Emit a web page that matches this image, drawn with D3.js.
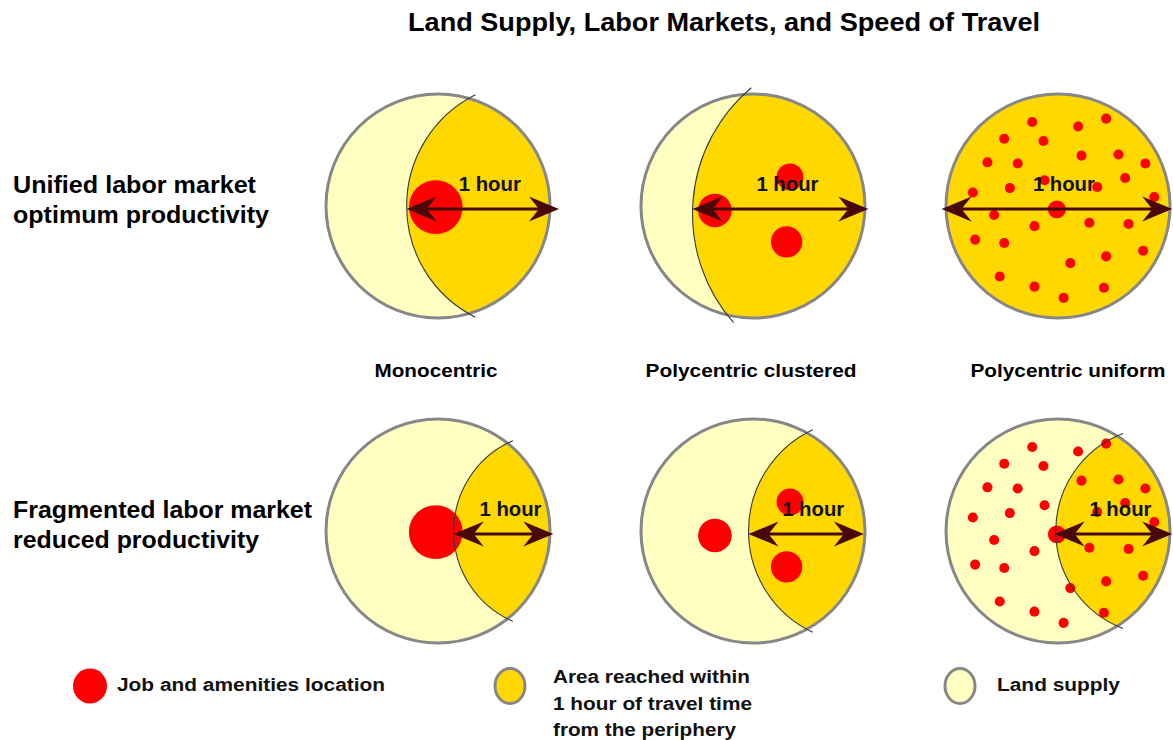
<!DOCTYPE html>
<html>
<head>
<meta charset="utf-8">
<script src="https://cdn.jsdelivr.net/npm/d3@7"></script>
<style>
  html, body { margin: 0; padding: 0; background: #fff; }
  svg { display: block; font-family: "Liberation Sans", Arial, sans-serif; font-weight: bold; }
</style>
</head>
<body>
<svg id="chart" width="1173" height="740"></svg>
<script>
// ---- data (city coordinates in units of the city radius, centre = 0) ----
const title = "Land Supply, Labor Markets, and Speed of Travel";
const columns = ["Monocentric", "Polycentric clustered", "Polycentric uniform"];
const rowKeys = ["unified", "fragmented"];
const rowLabels = [
  ["Unified labor market", "optimum productivity"],
  ["Fragmented labor market", "reduced productivity"]
];

// one-hour reach from the periphery: centre (x, y) and radius of the reach circle
const reachHubUnified = [[0.83, 0], [0.93, 0.07], null];
const reachRadiusUnified = [1.11, 1.47, null];
const reachHubFragmented = [[1.02, 0], [0.96, 0], [0.91, 0]];
const reachRadiusFragmented = [0.88, 1.00, 0.93];

// the "1 hour" arrow, start and end along the axis
const spanUnified = [[-0.28, 1.08], [-0.54, 1.03], [-1.04, 1.02]];
const spanFragmented = [[0.14, 1.03], [-0.04, 0.99], [-0.03, 1.02]];

// job and amenities locations
const jobsMono = [{ x: -0.02, y: 0.01, r: 0.24 }];
const jobsClustered = [
  { x: -0.34, y: 0.04, r: 0.15 },
  { x: 0.33, y: -0.26, r: 0.12 },
  { x: 0.30, y: 0.32, r: 0.14 }
];
const jobsUniform = [
  { x: -0.01, y: 0.03, r: 0.08 },
  { x: -0.23, y: -0.75 }, { x: 0.18, y: -0.71 }, { x: 0.43, y: -0.78 },
  { x: -0.48, y: -0.60 }, { x: -0.13, y: -0.58 }, { x: -0.63, y: -0.39 },
  { x: -0.36, y: -0.38 }, { x: 0.21, y: -0.45 }, { x: 0.54, y: -0.46 },
  { x: 0.78, y: -0.38 }, { x: -0.12, y: -0.23 }, { x: 0.60, y: -0.25 },
  { x: -0.76, y: -0.12 }, { x: -0.43, y: -0.16 }, { x: 0.35, y: -0.17 },
  { x: 0.86, y: -0.08 }, { x: -0.57, y: 0.08 }, { x: -0.21, y: 0.18 },
  { x: 0.28, y: 0.15 }, { x: 0.63, y: 0.16 }, { x: -0.74, y: 0.30 },
  { x: -0.48, y: 0.33 }, { x: 0.43, y: 0.45 }, { x: 0.76, y: 0.40 },
  { x: 0.11, y: 0.51 }, { x: -0.52, y: 0.63 }, { x: -0.21, y: 0.72 },
  { x: 0.41, y: 0.73 }, { x: 0.05, y: 0.82 }
];
const jobsByColumn = [jobsMono, jobsClustered, jobsUniform];

const legendLabels = [
  ["Job and amenities location"],
  ["Area reached within", "1 hour of travel time", "from the periphery"],
  ["Land supply"]
];

// ---- styles ----
const landColor = "#FFFFC2";
const reachColor = "#FFD800";
const jobColor = "#FF0000";
const rimColor = "#878787";
const arrowColor = "#480808";
const smallDot = 0.045;

const svg = d3.select("#chart");
const R = 112;
const colX = d3.scaleOrdinal().domain(columns).range([438, 753, 1058]);
const rowY = d3.scaleOrdinal().domain(rowKeys).range([206, 531]);

function fit(sel, w) {
  sel.attr("textLength", w).attr("lengthAdjust", "spacingAndGlyphs");
}

// title
svg.append("text")
  .attr("x", 724).attr("y", 31)
  .attr("text-anchor", "middle")
  .style("font-size", "25px")
  .text(title)
  .call(fit, 632);

// row labels
const rowWidths = [[243, 256], [299, 246]];
rowKeys.forEach((key, i) => {
  const t = svg.append("text").attr("x", 13).style("font-size", "24px");
  rowLabels[i].forEach((line, j) => {
    t.append("tspan")
      .attr("x", 13)
      .attr("y", rowY(key) - 13 + j * 30)
      .text(line)
      .call(fit, rowWidths[i][j]);
  });
});

// column labels
const colWidths = [123, 211, 195];
columns.forEach((c, i) => {
  svg.append("text")
    .attr("x", i === 2 ? colX(c) + 10 : colX(c) - 2)
    .attr("y", 377)
    .attr("text-anchor", "middle")
    .style("font-size", "18px")
    .text(c)
    .call(fit, colWidths[i]);
});

// barbed arrowhead, tip at (tipX, y), dir = +1 points left
function headPath(tipX, y, dir) {
  const L = 30, w = 12.5, notch = 20;
  return `M${tipX},${y}L${tipX + dir * L},${y - w}L${tipX + dir * notch},${y}L${tipX + dir * L},${y + w}Z`;
}

let clipId = 0;
rowKeys.forEach((key, ri) => {
  const hubs = ri === 0 ? reachHubUnified : reachHubFragmented;
  const radii = ri === 0 ? reachRadiusUnified : reachRadiusFragmented;
  const spans = ri === 0 ? spanUnified : spanFragmented;

  columns.forEach((col, ci) => {
    const cx = colX(col), cy = rowY(key);
    const x = d3.scaleLinear().domain([-1, 1]).range([cx - R, cx + R]);
    const y = d3.scaleLinear().domain([-1, 1]).range([cy - R, cy + R]);
    const k = d3.scaleLinear().domain([0, 1]).range([0, R]);
    const g = svg.append("g");

    const id = "city" + (clipId++);
    g.append("clipPath").attr("id", id)
      .append("circle").attr("cx", cx).attr("cy", cy).attr("r", R);

    const hub = hubs[ci], rr = radii[ci];
    g.append("circle")
      .attr("cx", cx).attr("cy", cy).attr("r", R)
      .attr("fill", hub === null ? reachColor : landColor);

    if (hub !== null) {
      g.append("circle")
        .attr("clip-path", `url(#${id})`)
        .attr("cx", x(hub[0])).attr("cy", y(hub[1])).attr("r", k(rr))
        .attr("fill", reachColor);
    }

    g.append("circle")
      .attr("cx", cx).attr("cy", cy).attr("r", R)
      .attr("fill", "none")
      .attr("stroke", rimColor).attr("stroke-width", 3);

    // jobs
    g.selectAll(".job")
      .data(jobsByColumn[ci])
      .join("circle")
      .attr("class", "job")
      .attr("cx", d => x(d.x))
      .attr("cy", d => y(d.y))
      .attr("r", d => k(d.r || smallDot))
      .attr("fill", jobColor);

    // reach boundary arc, running a little past the rim
    if (hub !== null) {
      const [h, v] = hub;
      const d = Math.hypot(h, v);
      const a = (1 - rr * rr + d * d) / (2 * d);
      const hh = Math.sqrt(1 - a * a);
      const px = a * h / d, py = a * v / d;
      const pts = [
        [px + hh * v / d, py - hh * h / d],
        [px - hh * v / d, py + hh * h / d]
      ];
      const angs = pts.map(p => Math.atan2(p[1] - v, p[0] - h));
      const aTop = Math.min(...angs), aBot = Math.max(...angs);
      const ext = 0.06;
      const p = d3.path();
      p.arc(x(h), y(v), k(rr), aBot - ext, aTop + 2 * Math.PI + ext, false);
      g.append("path")
        .attr("d", p.toString())
        .attr("fill", "none")
        .attr("stroke", "#3a3a3a")
        .attr("stroke-width", 1.1);
    }

    // arrow
    const ay = cy + 3;
    const x0 = x(spans[ci][0]), x1 = x(spans[ci][1]);
    g.append("line")
      .attr("x1", x0 + 10).attr("x2", x1 - 10)
      .attr("y1", ay).attr("y2", ay)
      .attr("stroke", arrowColor).attr("stroke-width", 3);
    g.append("path").attr("d", headPath(x0, ay, 1)).attr("fill", arrowColor);
    g.append("path").attr("d", headPath(x1, ay, -1)).attr("fill", arrowColor);

    g.append("text")
      .attr("x", (x0 + x1) / 2 + 7)
      .attr("y", ay - 18)
      .attr("text-anchor", "middle")
      .style("font-size", "20px")
      .attr("fill", "#111")
      .text("1 hour")
      .call(fit, 62);
  });
});

// legend
const legendX = [90, 510, 960];
const legendFill = [jobColor, reachColor, landColor];
const legendTextX = [117, 553, 997];
const legendWidths = [[268], [197, 199, 183], [123]];
legendLabels.forEach((lines, i) => {
  const sym = svg.append("ellipse")
    .attr("cx", legendX[i]).attr("cy", 686)
    .attr("rx", i === 0 ? 17 : 15).attr("ry", 17.5)
    .attr("fill", legendFill[i]);
  if (i > 0) sym.attr("stroke", rimColor).attr("stroke-width", 3);
  lines.forEach((line, j) => {
    svg.append("text")
      .attr("x", legendTextX[i])
      .attr("y", (lines.length > 1 ? 683 : 691) + j * 26.5)
      .style("font-size", "18px")
      .attr("fill", "#111")
      .text(line)
      .call(fit, legendWidths[i][j]);
  });
});
</script>
</body>
</html>
